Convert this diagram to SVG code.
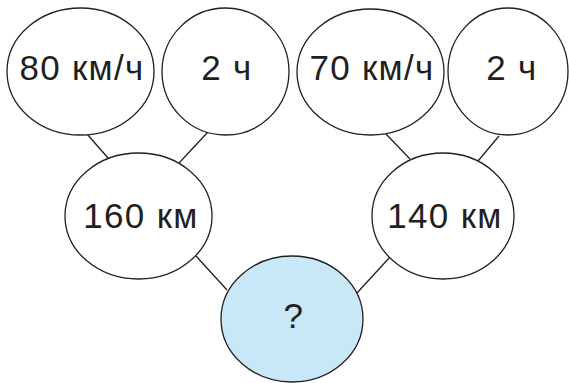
<svg xmlns="http://www.w3.org/2000/svg" width="569" height="383" viewBox="0 0 569 383">
<style>
.n{fill:#fff;stroke:#231f20;stroke-width:1.3}
.q{fill:#c8e8f8;stroke:#231f20;stroke-width:1.3}
.c line{stroke:#231f20;stroke-width:1.3}
text{font-family:"Liberation Sans",Arial,sans-serif;font-size:35px;letter-spacing:1.3px;fill:#231f20;text-anchor:middle}
</style>
<rect width="569" height="383" fill="#fff"/>
<g class="c" id="connectors">
<line x1="87" y1="134" x2="108" y2="158"/>
<line x1="208" y1="132" x2="179" y2="163"/>
<line x1="386" y1="134" x2="410" y2="159"/>
<line x1="499" y1="136" x2="478" y2="161"/>
<line x1="196" y1="256" x2="227" y2="290"/>
<line x1="390" y1="257" x2="357" y2="293"/>
</g>
<g id="n1"><ellipse class="n" cx="80.5" cy="71.5" rx="73.5" ry="63.5"/><text x="82" y="80">80 км/ч</text></g>
<g id="n2"><ellipse class="n" cx="225.5" cy="71.5" rx="63.5" ry="63.5"/><text x="227" y="80">2 ч</text></g>
<g id="n3"><ellipse class="n" cx="370.5" cy="72" rx="73.5" ry="63"/><text x="372" y="80">70 км/ч</text></g>
<g id="n4"><ellipse class="n" cx="508" cy="71.5" rx="60" ry="63.5"/><text x="512" y="80">2 ч</text></g>
<g id="n5"><ellipse class="n" cx="138.5" cy="216" rx="73.5" ry="63"/><text x="141" y="228">160 км</text></g>
<g id="n6"><ellipse class="n" cx="443" cy="216" rx="71" ry="63"/><text x="445" y="228">140 км</text></g>
<g id="n7"><ellipse class="q" cx="292" cy="319" rx="71" ry="63"/><text x="294" y="328">?</text></g>
</svg>
